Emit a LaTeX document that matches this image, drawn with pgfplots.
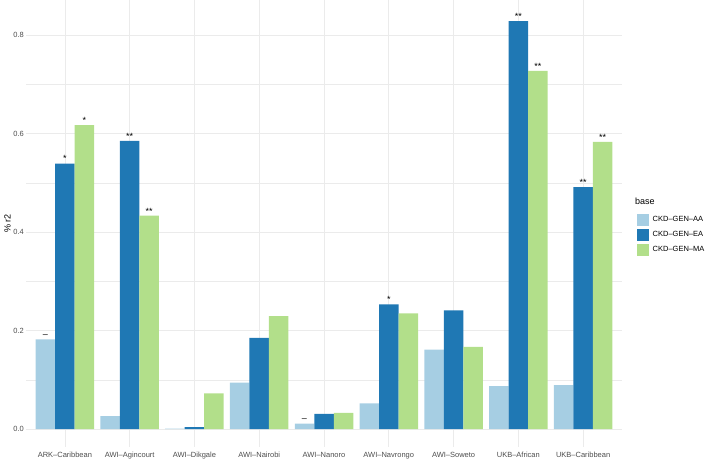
\documentclass[border=0pt]{standalone}
\usepackage{pgfplots}
\pgfplotsset{compat=1.18}
\usepackage{fontspec}
\setmainfont{Liberation Sans}
\definecolor{cAA}{HTML}{A6CEE3}
\definecolor{cEA}{HTML}{1F78B4}
\definecolor{cMA}{HTML}{B2DF8A}
\definecolor{gridc}{HTML}{EBEBEB}
\definecolor{tickc}{HTML}{4D4D4D}
\begin{document}
\begin{tikzpicture}
\begin{axis}[
  scale only axis,
  width=596pt, height=447pt,
  xmin=-0.6, xmax=8.6,
  ymin=-0.0365, ymax=0.871,
  ybar=0pt, bar width=19.5pt,
  axis line style={draw=none},
  tick style={draw=none},
  xtick={0,1,2,3,4,5,6,7,8},
  xticklabels={ARK–Caribbean,AWI–Agincourt,AWI–Dikgale,AWI–Nairobi,AWI–Nanoro,AWI–Navrongo,AWI–Soweto,UKB–African,UKB–Caribbean},
  ytick={0,0.2,0.4,0.6,0.8},
  minor ytick={0.1,0.3,0.5,0.7},
  ymajorgrids, yminorgrids, xmajorgrids,
  major grid style={draw=gridc, line width=0.7pt},
  minor grid style={draw=gridc, line width=0.4pt},
  /pgf/number format/.cd, fixed, fixed zerofill, precision=1, assume math mode=true,
  /pgfplots/.cd,
  ticklabel style={font=\fontsize{7.5}{9}\selectfont, text=tickc},
  xticklabel style={inner sep=1pt},
  yticklabel style={inner sep=1pt, xshift=-1pt},
  ylabel={\%\ r2},
  ylabel style={font=\fontsize{9}{10}\selectfont, at={(rel axis cs:0,0.5)}, anchor=south, yshift=15pt, inner sep=0pt},
  legend style={at={(rel axis cs:1,0.475)}, anchor=west, xshift=15pt, draw=none, fill=none,
    font=\fontsize{7.5}{9}\selectfont, row sep=3pt, inner sep=0pt,
    nodes={inner sep=1.5pt}, column sep=2pt},
  legend cell align=left,
  legend image code/.code={\fill[#1, draw=none] (0pt,-6pt) rectangle (12pt,6pt);},
  nodes near coords,
  point meta=explicit symbolic,
  every node near coord/.append style={font=\fontsize{9}{9}\selectfont, anchor=south, inner sep=1.5pt, text=black},
  clip=false,
]
\addplot[fill=cAA, draw=none] coordinates {
 (0,0.182) [–] (1,0.026) [] (2,0.001) [] (3,0.094) [] (4,0.011) [–]
 (5,0.052) [] (6,0.161) [] (7,0.087) [] (8,0.089) []
};
\addlegendentry{CKD–GEN–AA}
\addplot[fill=cEA, draw=none] coordinates {
 (0,0.539) [*] (1,0.585) [**] (2,0.004) [] (3,0.185) [] (4,0.031) []
 (5,0.253) [*] (6,0.241) [] (7,0.828) [**] (8,0.491) [**]
};
\addlegendentry{CKD–GEN–EA}
\addplot[fill=cMA, draw=none] coordinates {
 (0,0.617) [*] (1,0.433) [**] (2,0.0725) [] (3,0.229) [] (4,0.033) []
 (5,0.235) [] (6,0.167) [] (7,0.727) [**] (8,0.583) [**]
};
\addlegendentry{CKD–GEN–MA}
\coordinate (pll) at (rel axis cs:0,0);
\coordinate (pur) at (rel axis cs:1,1);
\node[anchor=west, font=\fontsize{9}{10}\selectfont, inner sep=0pt] at ([xshift=13pt]rel axis cs:1,0.55) {base};
\end{axis}
\pgfresetboundingbox
\path ([xshift=-26pt,yshift=-14pt]pll) rectangle ([xshift=86pt]pur);
\end{tikzpicture}
\end{document}
